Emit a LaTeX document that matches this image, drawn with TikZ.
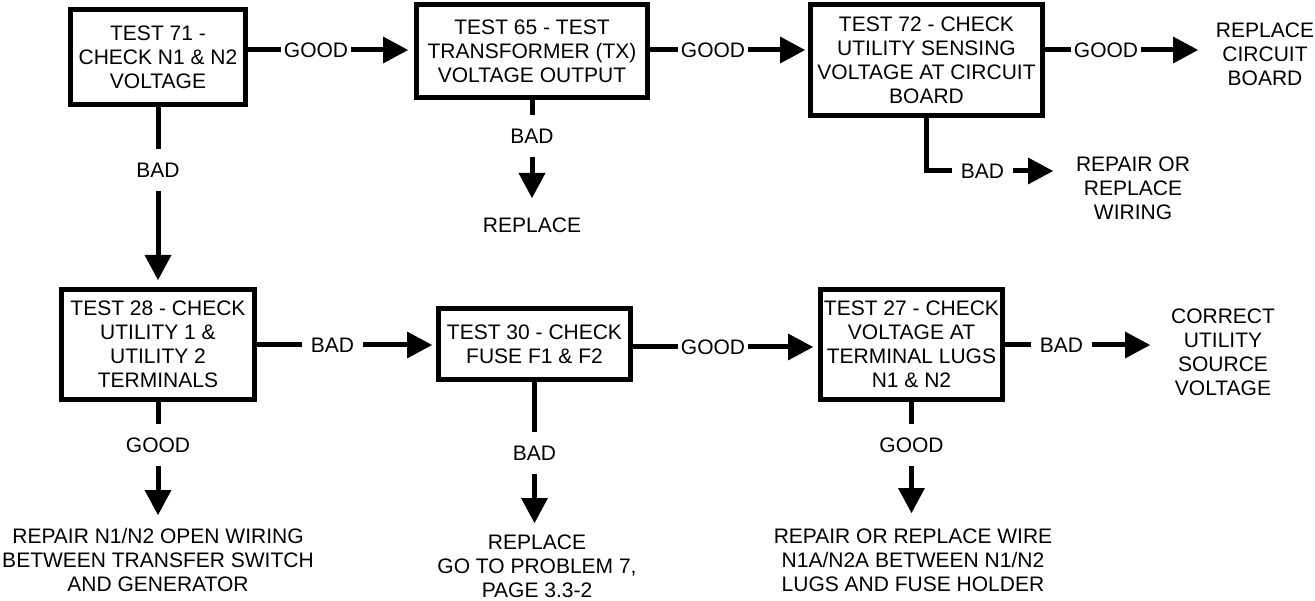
\documentclass[tikz,border=0pt]{standalone}
\usepackage{fontspec}
\setmainfont{Liberation Sans}
\usetikzlibrary{arrows.meta}
\begin{document}
\begin{tikzpicture}[x=1pt,y=-1pt,
  every node/.style={font=\fontsize{21}{24}\selectfont},
  box/.style={draw,line width=5pt,align=center,inner sep=0pt},
  lbl/.style={inner ysep=0pt,text height=15pt,text depth=0pt},
  hg/.style={lbl,inner xsep=3pt},
  hb/.style={lbl,inner xsep=8.5pt},
  vl/.style={lbl,inner xsep=0pt,inner ysep=13.5pt},
  outc/.style={align=center,inner sep=0pt},
  conn/.style={line width=5pt},
  arr/.style={conn,-{Triangle[length=25pt,width=27pt,line width=0pt]}}]
\useasboundingbox (0,0) rectangle (1315,601);

% boxes
\node[box,minimum width=175pt,minimum height=95pt] (b71) at (158,57) {TEST 71 -\\CHECK N1 \& N2\\VOLTAGE};
\node[box,minimum width=231pt,minimum height=93pt] (b65) at (532,51) {TEST 65 - TEST\\TRANSFORMER (TX)\\VOLTAGE OUTPUT};
\node[box,minimum width=232pt,minimum height=111pt] (b72) at (926.5,60) {TEST 72 - CHECK\\UTILITY SENSING\\VOLTAGE AT CIRCUIT\\BOARD};
\node[box,minimum width=193pt,minimum height=110pt] (b28) at (158,344.5) {TEST 28 - CHECK\\UTILITY 1 \&\\UTILITY 2\\TERMINALS};
\node[box,minimum width=192pt,minimum height=71pt] (b30) at (534.5,344) {TEST 30 - CHECK\\FUSE F1 \& F2};
\node[box,minimum width=182pt,minimum height=110pt] (b27) at (911.5,344.5) {TEST 27 - CHECK\\VOLTAGE AT\\TERMINAL LUGS\\N1 \& N2};

% outcomes
\node[outc] (o65) at (532,225) {REPLACE};
\node[outc] (o72g) at (1265,54) {REPLACE\\CIRCUIT\\BOARD};
\node[outc] (o72b) at (1133,188) {REPAIR OR\\REPLACE\\WIRING};
\node[outc] (o28) at (158,560) {REPAIR N1/N2 OPEN WIRING\\BETWEEN TRANSFER SWITCH\\AND GENERATOR};
\node[outc] (o30) at (537,566.5) {REPLACE\\GO TO PROBLEM 7,\\PAGE 3.3-2};
\node[outc] (o27b) at (1223,352) {CORRECT\\UTILITY\\SOURCE\\VOLTAGE};
\node[outc] (o27g) at (913,560) {REPAIR OR REPLACE WIRE\\N1A/N2A BETWEEN N1/N2\\LUGS AND FUSE HOLDER};

% labels
\node[hg] (g1) at (316,50) {GOOD};
\node[hg] (g2) at (713,50) {GOOD};
\node[hg] (g3) at (1106,50) {GOOD};
\node[hg] (g5) at (713,347) {GOOD};
\node[hb] (l6) at (982.5,171) {BAD};
\node[hb] (l7) at (332.5,345) {BAD};
\node[hb] (l9) at (1061.5,345) {BAD};
\node[vl] (l4) at (158,170) {BAD};
\node[vl] (l5) at (532,136) {BAD};
\node[vl] (l10) at (158,445) {GOOD};
\node[vl] (l11) at (534.5,453) {BAD};
\node[vl] (l12) at (911.5,445) {GOOD};

% arrow tip coordinates
\coordinate (t3) at (1198,50);
\coordinate (t5) at (532,198);
\coordinate (t6) at (1053,171);
\coordinate (t9) at (1150,345);
\coordinate (t10) at (158,515);
\coordinate (t11) at (534.5,523);
\coordinate (t12) at (911.5,513);

% connectors
\draw[conn] (g1.west -| b71.east) -- (g1.west);
\draw[arr,shorten >=6pt] (g1.east) -- (g1.east -| b65.west);
\draw[conn] (g2.west -| b65.east) -- (g2.west);
\draw[arr,shorten >=3pt] (g2.east) -- (g2.east -| b72.west);
\draw[conn] (g3.west -| b72.east) -- (g3.west);
\draw[arr] (g3.east) -- (t3);
\draw[conn] (b71.south) -- (l4.north);
\draw[arr,shorten >=7pt] (l4.south) -- (b28.north);
\draw[conn] (b65.south) -- (l5.north);
\draw[arr] (l5.south) -- (t5);
\draw[conn] (b72.south) |- (l6.west);
\draw[arr] (l6.east) -- (t6);
\draw[conn] (l7.west -| b28.east) -- (l7.west);
\draw[arr,shorten >=4pt] (l7.east) -- (l7.east -| b30.west);
\draw[conn] (g5.west -| b30.east) -- (g5.west);
\draw[arr,shorten >=5pt] (g5.east) -- (g5.east -| b27.west);
\draw[conn] (l9.west -| b27.east) -- (l9.west);
\draw[arr] (l9.east) -- (t9);
\draw[conn] (b28.south) -- (l10.north);
\draw[arr] (l10.south) -- (t10);
\draw[conn] (b30.south) -- (l11.north);
\draw[arr] (l11.south) -- (t11);
\draw[conn] (b27.south) -- (l12.north);
\draw[arr] (l12.south) -- (t12);
\end{tikzpicture}
\end{document}
